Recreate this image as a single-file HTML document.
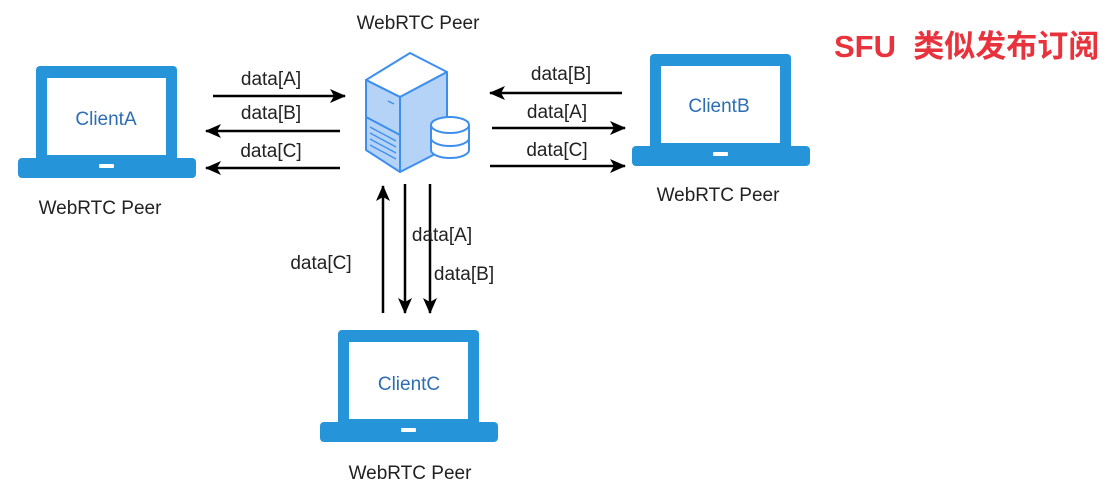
<!DOCTYPE html>
<html><head><meta charset="utf-8"><style>
body{margin:0;background:#fff;}
svg{display:block;}
text{font-family:"Liberation Sans",sans-serif;}
</style></head><body>
<svg width="1112" height="493" viewBox="0 0 1112 493" xmlns="http://www.w3.org/2000/svg">
<defs>
<marker id="ah" markerWidth="16" markerHeight="16" refX="15" refY="8" orient="auto" markerUnits="userSpaceOnUse" viewBox="0 0 16 16">
<path d="M0,1 L16,8 L0,15 L4,8 Z" fill="#000"/>
</marker>
<g id="lap">
<rect x="0" y="0" width="141" height="96" rx="4" fill="#2594d8"/>
<rect x="11" y="12" width="119" height="77" fill="#fff"/>
<rect x="-18" y="92" width="178" height="20" rx="4" fill="#2594d8"/>
<rect x="63" y="98" width="15" height="4" rx="1" fill="#fff"/>
</g>
</defs>
<rect width="1112" height="493" fill="#fff"/>

<use href="#lap" x="36" y="66"/>
<use href="#lap" x="650" y="54"/>
<use href="#lap" x="338" y="330"/>
<g font-size="19" fill="#2c6db3" text-anchor="middle">
<text x="106" y="125">ClientA</text>
<text x="719" y="112">ClientB</text>
<text x="409" y="390">ClientC</text>
</g>
<g font-size="19" fill="#222" text-anchor="middle">
<text x="100" y="214">WebRTC Peer</text>
<text x="718" y="201">WebRTC Peer</text>
<text x="410" y="479">WebRTC Peer</text>
<text x="418" y="29">WebRTC Peer</text>
</g>

<g stroke="#3d8fee" stroke-width="2" stroke-linejoin="round">
<path d="M366,80 L410,53 L447,72 L400,97 Z" fill="#fff"/>
<path d="M366,80 L400,97 L400,172 L366,150 Z" fill="#b5d3f7"/>
<path d="M400,97 L447,72 L447,148 L400,172 Z" fill="#b5d3f7"/>
<path d="M366,117 L400,135" fill="none"/>
<path d="M370,127 L396,141 M370,133 L396,147 M370,139 L396,153 M370,145 L396,159" fill="none" stroke-width="1.3"/>
<path d="M388,101 L394,104" fill="none" stroke-width="1.3"/>
<path d="M431,125 L431,150 A19,8 0 0 0 469,150 L469,125 Z" fill="#fff"/>
<ellipse cx="450" cy="125" rx="19" ry="8" fill="#fff"/>
<path d="M431,138 A19,8 0 0 0 469,138" fill="none"/>
</g>

<g stroke="#000" stroke-width="2.5" marker-end="url(#ah)" fill="none">
<line x1="213" y1="96" x2="345" y2="96"/>
<line x1="340" y1="131" x2="206" y2="131"/>
<line x1="340" y1="168" x2="206" y2="168"/>
<line x1="622" y1="93" x2="490" y2="93"/>
<line x1="492" y1="128" x2="625" y2="128"/>
<line x1="490" y1="166" x2="625" y2="166"/>
<line x1="383" y1="313" x2="383" y2="186"/>
<line x1="405" y1="184" x2="405" y2="313"/>
<line x1="430" y1="184" x2="430" y2="313"/>
</g>
<g font-size="19" fill="#222" text-anchor="middle">
<text x="271" y="85">data[A]</text>
<text x="271" y="119">data[B]</text>
<text x="271" y="157">data[C]</text>
<text x="561" y="80">data[B]</text>
<text x="557" y="118">data[A]</text>
<text x="557" y="156">data[C]</text>
<text x="321" y="269">data[C]</text>
<text x="442" y="241">data[A]</text>
<text x="464" y="280">data[B]</text>
</g>

<text x="834" y="57" font-size="31" font-weight="bold" fill="#e8333d" style='font-family:"Liberation Sans","Noto Sans CJK SC",sans-serif'>SFU&#160; 类似发布订阅</text>
</svg>
</body></html>
